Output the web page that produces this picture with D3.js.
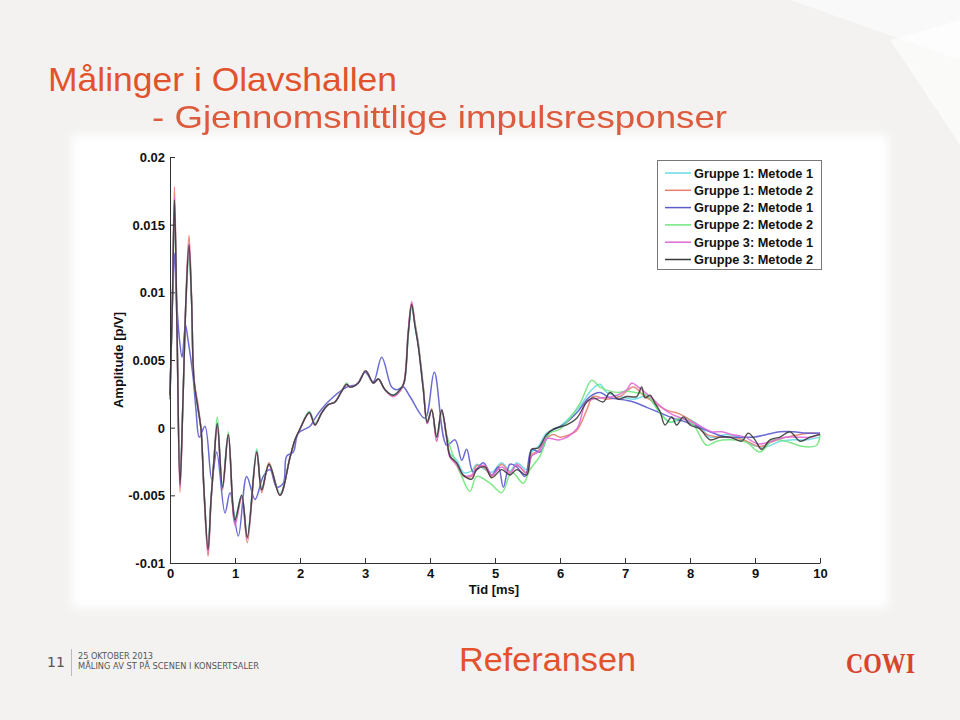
<!DOCTYPE html>
<html>
<head>
<meta charset="utf-8">
<script src="https://cdn.jsdelivr.net/npm/d3@7"></script>
<style>
  html, body { margin: 0; padding: 0; background: #f3f2f1; }
  svg { display: block; }
</style>
</head>
<body>
<svg id="chart" width="960" height="720"></svg>
<script>
// ---------------- DATA ----------------
const seriesNames = ["Gruppe 1: Metode 1", "Gruppe 1: Metode 2", "Gruppe 2: Metode 1",
                     "Gruppe 2: Metode 2", "Gruppe 3: Metode 1", "Gruppe 3: Metode 2"];
const xTickValues = [0,1,2,3,4,5,6,7,8,9,10];
const xTickLabels = ["0","1","2","3","4","5","6","7","8","9","10"];
const yTickValues = [-0.01,-0.005,0,0.005,0.01,0.015,0.02];
const yTickLabels = ["-0.01","-0.005","0","0.005","0.01","0.015","0.02"];

// [time ms, amplitude]
const g1m1 = [[0,0.0024],[0.038,0.0095],[0.069,0.0166],[0.108,0.0072],[0.154,-0.0042],[0.2,0.0021],[0.246,0.0095],[0.292,0.0133],[0.331,0.0095],[0.369,0.0036],[0.431,0.0014],[0.477,-0.0001],[0.523,-0.0046],[0.585,-0.0089],[0.631,-0.0053],[0.677,-0.0024],[0.728,0.0004],[0.808,-0.0043],[0.897,-0.0005],[1.0,-0.0067],[1.103,-0.005],[1.189,-0.008],[1.334,-0.0016],[1.411,-0.0045],[1.523,-0.0027],[1.692,-0.0049],[1.846,-0.0022],[1.923,-0.0009],[2.0,-0.0001],[2.143,0.0012],[2.231,0.0003],[2.334,0.0011],[2.435,0.0017],[2.538,0.0019],[2.642,0.0027],[2.718,0.0032],[2.769,0.003],[2.897,0.0033],[3.011,0.0042],[3.128,0.0033],[3.205,0.0036],[3.308,0.0028],[3.435,0.0024],[3.538,0.0028],[3.6,0.0033],[3.666,0.0069],[3.718,0.009],[3.769,0.0075],[3.82,0.006],[3.897,0.0028],[3.958,0.0005],[4.026,0.0013],[4.103,-0.0007],[4.18,0.0012],[4.257,-0.0008],[4.308,-0.0019],[4.411,-0.0024],[4.512,-0.0033],[4.642,-0.0032],[4.718,-0.0027],[4.846,-0.0031],[4.949,-0.0033],[5.103,-0.0026],[5.231,-0.0032],[5.334,-0.0026],[5.488,-0.0031],[5.565,-0.0018],[5.666,-0.0014],[5.795,-0.0004],[6.0,0.0001],[6.308,0.0016],[6.488,0.0028],[6.615,0.0032],[6.718,0.0026],[6.923,0.0023],[7.128,0.0021],[7.334,0.0023],[7.538,0.0011],[7.692,0.0004],[7.949,0.0007],[8.154,0.0001],[8.308,-0.0007],[8.564,-0.0005],[8.769,-0.0007],[8.974,-0.0013],[9.18,-0.0014],[9.385,-0.001],[9.59,-0.0009],[9.795,-0.0009],[10,-0.0007]];

const g1m2 = [[0,0.0024],[0.038,0.0098],[0.069,0.0178],[0.108,0.0072],[0.154,-0.0048],[0.2,0.0021],[0.246,0.0098],[0.292,0.0142],[0.331,0.0098],[0.369,0.0036],[0.431,0.0017],[0.477,-0.0001],[0.523,-0.0048],[0.585,-0.0095],[0.631,-0.0055],[0.677,-0.0024],[0.728,0.0002],[0.808,-0.0046],[0.897,-0.0006],[1.0,-0.007],[1.103,-0.0052],[1.189,-0.0085],[1.334,-0.0019],[1.411,-0.0048],[1.523,-0.0026],[1.692,-0.005],[1.846,-0.0022],[1.923,-0.001],[2.0,-0.0001],[2.143,0.0011],[2.231,0.0002],[2.334,0.0011],[2.435,0.0017],[2.538,0.0019],[2.642,0.0027],[2.718,0.0032],[2.769,0.003],[2.897,0.0033],[3.011,0.0042],[3.128,0.0033],[3.205,0.0036],[3.308,0.0028],[3.435,0.0023],[3.538,0.0027],[3.6,0.0033],[3.666,0.0071],[3.718,0.0092],[3.769,0.0077],[3.82,0.0062],[3.897,0.003],[3.958,0.0003],[4.026,0.0014],[4.103,-0.001],[4.18,0.0013],[4.257,-0.0008],[4.308,-0.0021],[4.411,-0.0028],[4.512,-0.0036],[4.642,-0.0036],[4.718,-0.0028],[4.846,-0.003],[4.949,-0.0036],[5.103,-0.0027],[5.231,-0.0033],[5.334,-0.0028],[5.488,-0.0033],[5.565,-0.002],[5.666,-0.0017],[5.795,-0.0008],[5.897,-0.0005],[6.0,-0.0007],[6.103,-0.0006],[6.257,-0.0002],[6.411,0.0013],[6.512,0.0023],[6.718,0.0021],[6.923,0.0023],[7.128,0.003],[7.282,0.0024],[7.436,0.0019],[7.641,0.0013],[7.846,0.001],[8.051,0.0004],[8.256,-0.0005],[8.462,-0.0007],[8.667,-0.0007],[8.872,-0.001],[9.077,-0.0014],[9.282,-0.001],[9.487,-0.0007],[9.692,-0.0005],[9.897,-0.0004],[10,-0.0005]];

const g2m1 = [[0,0.0021],[0.038,0.0095],[0.066,0.0129],[0.1,0.0095],[0.146,0.0065],[0.185,0.0052],[0.238,0.0076],[0.277,0.0065],[0.354,0.0038],[0.4,0.0013],[0.451,-0.0007],[0.538,0.0001],[0.641,-0.0038],[0.718,-0.0018],[0.846,-0.0063],[0.923,-0.0048],[1.051,-0.008],[1.18,-0.0036],[1.308,-0.0053],[1.435,-0.0036],[1.538,-0.0031],[1.641,-0.0044],[1.743,-0.0041],[1.795,-0.0021],[1.897,-0.0018],[1.974,-0.0004],[2.154,0.0001],[2.231,0.0007],[2.41,0.0018],[2.718,0.003],[2.872,0.0032],[3.0,0.0041],[3.128,0.0034],[3.257,0.0052],[3.41,0.003],[3.488,0.0028],[3.589,0.003],[3.692,0.0023],[3.923,0.0007],[4.066,0.0041],[4.257,-0.0013],[4.385,-0.0009],[4.488,-0.0024],[4.564,-0.0016],[4.666,-0.0033],[4.82,-0.0026],[4.949,-0.0035],[5.051,-0.0029],[5.128,-0.0044],[5.231,-0.0027],[5.334,-0.0029],[5.462,-0.0036],[5.565,-0.0016],[5.692,-0.0018],[5.846,-0.0003],[6.051,0.0002],[6.257,0.0011],[6.462,0.0023],[6.615,0.0026],[6.769,0.0022],[6.923,0.0021],[7.128,0.0019],[7.334,0.0015],[7.538,0.0011],[7.743,0.0007],[7.949,0.0004],[8.154,0],[8.359,-0.0004],[8.564,-0.0007],[8.769,-0.0007],[8.974,-0.0007],[9.18,-0.0005],[9.385,-0.0003],[9.59,-0.0003],[9.795,-0.0004],[10,-0.0004]];

const g2m2 = [[0,0.0024],[0.038,0.0093],[0.069,0.0165],[0.108,0.0072],[0.154,-0.0038],[0.2,0.0021],[0.246,0.0092],[0.292,0.0126],[0.331,0.0095],[0.369,0.0036],[0.431,0.0013],[0.477,-0.0001],[0.523,-0.0046],[0.585,-0.0089],[0.631,-0.0053],[0.677,-0.0022],[0.728,0.0008],[0.808,-0.0043],[0.897,-0.0003],[1.0,-0.0067],[1.103,-0.005],[1.189,-0.0081],[1.334,-0.0016],[1.411,-0.0045],[1.523,-0.0027],[1.692,-0.0049],[1.846,-0.0022],[1.923,-0.0009],[2.0,-0.0001],[2.143,0.0012],[2.231,0.0003],[2.334,0.0011],[2.435,0.0017],[2.538,0.0019],[2.642,0.0027],[2.718,0.0033],[2.769,0.003],[2.897,0.0033],[3.011,0.0042],[3.128,0.0033],[3.205,0.0036],[3.308,0.0028],[3.435,0.0024],[3.538,0.0028],[3.6,0.0033],[3.666,0.0068],[3.718,0.0089],[3.769,0.0077],[3.82,0.0063],[3.897,0.003],[3.958,0.0005],[4.026,0.0013],[4.103,-0.0006],[4.18,0.0012],[4.257,-0.0005],[4.308,-0.0014],[4.462,-0.0033],[4.615,-0.0047],[4.718,-0.0036],[4.923,-0.0041],[5.103,-0.0048],[5.257,-0.0033],[5.436,-0.0041],[5.538,-0.0031],[5.692,-0.0021],[5.846,-0.0004],[6.0,-0.0001],[6.308,0.0018],[6.488,0.0035],[6.615,0.003],[6.769,0.0027],[6.897,0.0026],[7.026,0.0027],[7.154,0.0026],[7.334,0.0024],[7.538,0.0011],[7.692,0.0004],[7.846,0.0007],[8.051,0.0002],[8.257,-0.0013],[8.411,-0.001],[8.615,-0.0009],[8.872,-0.0011],[9.077,-0.0018],[9.282,-0.0009],[9.538,-0.0011],[9.743,-0.0014],[9.949,-0.0013],[10,-0.0005]];

const g3m1 = [[0,0.0024],[0.038,0.0096],[0.069,0.017],[0.108,0.0072],[0.154,-0.0044],[0.2,0.0021],[0.246,0.0095],[0.292,0.0136],[0.331,0.0096],[0.369,0.0036],[0.431,0.0015],[0.477,-0.0001],[0.523,-0.0047],[0.585,-0.0092],[0.631,-0.0054],[0.677,-0.0024],[0.728,0.0003],[0.808,-0.0045],[0.897,-0.0005],[1.0,-0.0072],[1.103,-0.005],[1.189,-0.0082],[1.334,-0.0018],[1.411,-0.0046],[1.523,-0.0028],[1.692,-0.005],[1.846,-0.0022],[1.923,-0.0009],[2.0,-0.0001],[2.143,0.0011],[2.231,0.0002],[2.334,0.0011],[2.435,0.0017],[2.538,0.0019],[2.642,0.0027],[2.718,0.0032],[2.769,0.003],[2.897,0.0033],[3.011,0.0042],[3.128,0.0033],[3.205,0.0036],[3.308,0.0028],[3.435,0.0023],[3.538,0.0027],[3.6,0.0034],[3.666,0.0072],[3.718,0.0093],[3.769,0.0076],[3.82,0.0061],[3.897,0.0029],[3.958,0.0003],[4.026,0.0013],[4.103,-0.001],[4.18,0.0013],[4.257,-0.0008],[4.308,-0.0022],[4.411,-0.0027],[4.512,-0.0035],[4.642,-0.0035],[4.718,-0.003],[4.846,-0.0028],[4.949,-0.0035],[5.103,-0.0029],[5.231,-0.0034],[5.334,-0.0027],[5.488,-0.0034],[5.565,-0.0021],[5.666,-0.0018],[5.8,-0.0008],[6.0,-0.0009],[6.256,-0.0001],[6.41,0.0019],[6.615,0.0022],[6.82,0.0023],[7.026,0.0028],[7.103,0.0033],[7.205,0.003],[7.41,0.0022],[7.564,0.0015],[7.718,0.001],[7.923,0.0006],[8.128,0.0002],[8.333,-0.0003],[8.487,-0.0003],[8.641,-0.0005],[8.846,-0.0007],[9.051,-0.0012],[9.256,-0.001],[9.462,-0.0007],[9.667,-0.0007],[9.872,-0.0007],[10,-0.0005]];

const g3m2 = [[0,0.0024],[0.038,0.0095],[0.069,0.0168],[0.108,0.0072],[0.154,-0.0042],[0.2,0.0021],[0.246,0.0095],[0.292,0.0135],[0.331,0.0095],[0.369,0.0035],[0.431,0.0014],[0.477,-0.0001],[0.523,-0.0046],[0.585,-0.009],[0.631,-0.0053],[0.677,-0.0024],[0.728,0.0003],[0.808,-0.0044],[0.897,-0.0005],[1.0,-0.0068],[1.103,-0.005],[1.189,-0.0081],[1.334,-0.0018],[1.411,-0.0046],[1.523,-0.0027],[1.692,-0.005],[1.846,-0.0022],[1.923,-0.0009],[2.0,-0.0001],[2.143,0.0011],[2.231,0.0002],[2.334,0.0011],[2.435,0.0017],[2.538,0.0019],[2.642,0.0027],[2.718,0.0032],[2.769,0.003],[2.897,0.0033],[3.011,0.0042],[3.128,0.0033],[3.205,0.0036],[3.308,0.0028],[3.435,0.0024],[3.538,0.0028],[3.6,0.0033],[3.666,0.007],[3.718,0.0091],[3.769,0.0075],[3.82,0.006],[3.897,0.0028],[3.958,0.0004],[4.026,0.0013],[4.103,-0.0007],[4.18,0.0013],[4.257,-0.0007],[4.308,-0.0021],[4.411,-0.0026],[4.512,-0.0035],[4.642,-0.0038],[4.718,-0.0031],[4.846,-0.0029],[4.949,-0.0037],[5.103,-0.0031],[5.231,-0.0035],[5.334,-0.0031],[5.488,-0.0035],[5.565,-0.0016],[5.666,-0.0015],[5.795,-0.0005],[5.897,-0.0001],[6.103,0.0002],[6.257,0.0007],[6.411,0.0019],[6.512,0.0022],[6.666,0.0019],[6.769,0.0026],[6.897,0.0021],[7.026,0.0023],[7.18,0.0023],[7.257,0.003],[7.308,0.0022],[7.385,0.0024],[7.462,0.0018],[7.538,0.0012],[7.615,0.0002],[7.718,0.0008],[7.795,0.0002],[7.897,0.0008],[8.0,0.0002],[8.154,-0.0001],[8.308,-0.0009],[8.462,-0.0007],[8.615,-0.0007],[8.795,-0.001],[8.897,-0.0004],[9.0,-0.0009],[9.103,-0.0016],[9.231,-0.0009],[9.385,-0.0007],[9.538,-0.0003],[9.692,-0.001],[9.846,-0.0007],[10,-0.0005]];

const seriesData = [g1m1, g1m2, g2m1, g2m2, g3m1, g3m2];
const seriesColors = ["#67dbe6", "#e8806f", "#5b5bd0", "#72e67c", "#e06ad8", "#3a3a3a"];

// ---------------- DRAW ----------------
const svg = d3.select("#chart");
const ORANGE = "#e2522c";

const defs = svg.append("defs");
defs.append("filter").attr("id", "soft").attr("x", "-10%").attr("y", "-10%").attr("width", "120%").attr("height", "120%")
  .append("feGaussianBlur").attr("stdDeviation", 5);
defs.append("filter").attr("id", "textsoft")
  .append("feGaussianBlur").attr("stdDeviation", 0.35);

// slide background
svg.append("rect").attr("width", 960).attr("height", 720).attr("fill", "#f3f2f1");
// decorative shapes top-right
svg.append("polygon").attr("points", "790,0 960,0 960,60").attr("fill", "#ffffff").attr("opacity", 0.55);
svg.append("polygon").attr("points", "890,40 960,20 960,145").attr("fill", "#ffffff").attr("opacity", 0.6);
svg.append("polygon").attr("points", "895,40 930,100 960,140").attr("fill", "#fbfbfb").attr("opacity", 0.7);

// white panel behind chart
svg.append("rect").attr("x", 72).attr("y", 134).attr("width", 816).attr("height", 474)
  .attr("fill", "#ffffff").attr("filter", "url(#soft)");

// titles
const titleFont = "'Liberation Sans', Arial, sans-serif";
svg.append("text").attr("x", 48).attr("y", 91).attr("fill", ORANGE)
  .attr("font-family", titleFont).attr("font-size", 33)
  .attr("textLength", 349).attr("lengthAdjust", "spacingAndGlyphs")
  .text("Målinger i Olavshallen");
svg.append("text").attr("x", 152).attr("y", 128).attr("fill", "#dd5a3c")
  .attr("font-family", titleFont).attr("font-size", 32)
  .attr("textLength", 575).attr("lengthAdjust", "spacingAndGlyphs")
  .attr("filter", "url(#textsoft)")
  .text("- Gjennomsnittlige impulsresponser");

// scales
const x = d3.scaleLinear().domain([0, 10]).range([170, 820]);
const y = d3.scaleLinear().domain([-0.01, 0.02]).range([563, 157]);

// lines
const line = d3.line().x(d => x(d[0])).y(d => y(d[1])).curve(d3.curveCatmullRom.alpha(0.5));
const plot = svg.append("g");
seriesData.forEach((s, i) => {
  plot.append("path").datum(s)
    .attr("d", line)
    .attr("fill", "none")
    .attr("stroke", seriesColors[i])
    .attr("stroke-width", i === 5 ? 1.4 : 1.5)
    .attr("stroke-opacity", 0.9)
    .attr("stroke-linejoin", "round");
});

// axes
const axisFont = "'Liberation Sans', Arial, sans-serif";
const yAxis = svg.append("g").attr("transform", "translate(170,0)")
  .call(d3.axisLeft(y).tickValues(yTickValues).tickSizeInner(-5).tickSizeOuter(0).tickPadding(5)
    .tickFormat((d, i) => yTickLabels[i]));
const xAxis = svg.append("g").attr("transform", "translate(0,563)")
  .call(d3.axisBottom(x).tickValues(xTickValues).tickSizeInner(-5).tickSizeOuter(0).tickPadding(6)
    .tickFormat((d, i) => xTickLabels[i]));
[yAxis, xAxis].forEach(g => {
  g.selectAll("path.domain").attr("stroke", "#333").attr("stroke-width", 1);
  g.selectAll(".tick line").attr("stroke", "#333").attr("stroke-width", 1);
  g.selectAll(".tick text").attr("font-family", axisFont).attr("font-size", 13)
    .attr("fill", "#111").attr("font-weight", "bold");
});
yAxis.selectAll(".tick text").attr("dy", "0.35em");

svg.append("text").attr("x", 494).attr("y", 594).attr("text-anchor", "middle")
  .attr("font-family", axisFont).attr("font-size", 13).attr("font-weight", "bold").attr("fill", "#111")
  .text("Tid [ms]");
svg.append("text").attr("transform", "translate(123,360) rotate(-90)").attr("text-anchor", "middle")
  .attr("font-family", axisFont).attr("font-size", 13).attr("font-weight", "bold").attr("fill", "#111")
  .text("Amplitude [p/V]");

// legend
const legend = svg.append("g");
legend.append("rect").attr("x", 657.5).attr("y", 160.5).attr("width", 164).attr("height", 109)
  .attr("fill", "#ffffff").attr("stroke", "#777").attr("stroke-width", 1);
seriesNames.forEach((name, i) => {
  const yy = 173 + i * 17.3;
  legend.append("line").attr("x1", 665).attr("x2", 691).attr("y1", yy).attr("y2", yy)
    .attr("stroke", seriesColors[i]).attr("stroke-width", 1.5);
  legend.append("text").attr("x", 694).attr("y", yy).attr("dy", "0.35em")
    .attr("font-family", axisFont).attr("font-size", 13).attr("font-weight", "bold").attr("fill", "#111")
    .attr("textLength", 119).attr("lengthAdjust", "spacingAndGlyphs")
    .text(name);
});

// footer
svg.append("text").attr("x", 47).attr("y", 667).attr("fill", "#555")
  .attr("font-family", "'DejaVu Sans', Verdana, sans-serif").attr("font-size", 14).text("11");
svg.append("line").attr("x1", 71.5).attr("x2", 71.5).attr("y1", 649).attr("y2", 676)
  .attr("stroke", "#bbb").attr("stroke-width", 1);
svg.append("text").attr("x", 78).attr("y", 659).attr("fill", "#555")
  .attr("font-family", "'DejaVu Sans', Verdana, sans-serif").attr("font-size", 9)
  .attr("textLength", 75).attr("lengthAdjust", "spacingAndGlyphs").text("25 OKTOBER 2013");
svg.append("text").attr("x", 78).attr("y", 669).attr("fill", "#555")
  .attr("font-family", "'DejaVu Sans', Verdana, sans-serif").attr("font-size", 9)
  .attr("textLength", 181).attr("lengthAdjust", "spacingAndGlyphs").text("MÅLING AV ST PÅ SCENEN I KONSERTSALER");
svg.append("text").attr("x", 459).attr("y", 671).attr("fill", ORANGE)
  .attr("font-family", titleFont).attr("font-size", 34)
  .attr("textLength", 177).attr("lengthAdjust", "spacingAndGlyphs").text("Referansen");
svg.append("text").attr("x", 846).attr("y", 673).attr("fill", "#d8442c")
  .attr("font-family", "'Liberation Serif', 'Times New Roman', serif").attr("font-size", 29).attr("font-weight", "bold")
  .attr("textLength", 69).attr("lengthAdjust", "spacingAndGlyphs").text("COWI");
</script>
</body>
</html>
